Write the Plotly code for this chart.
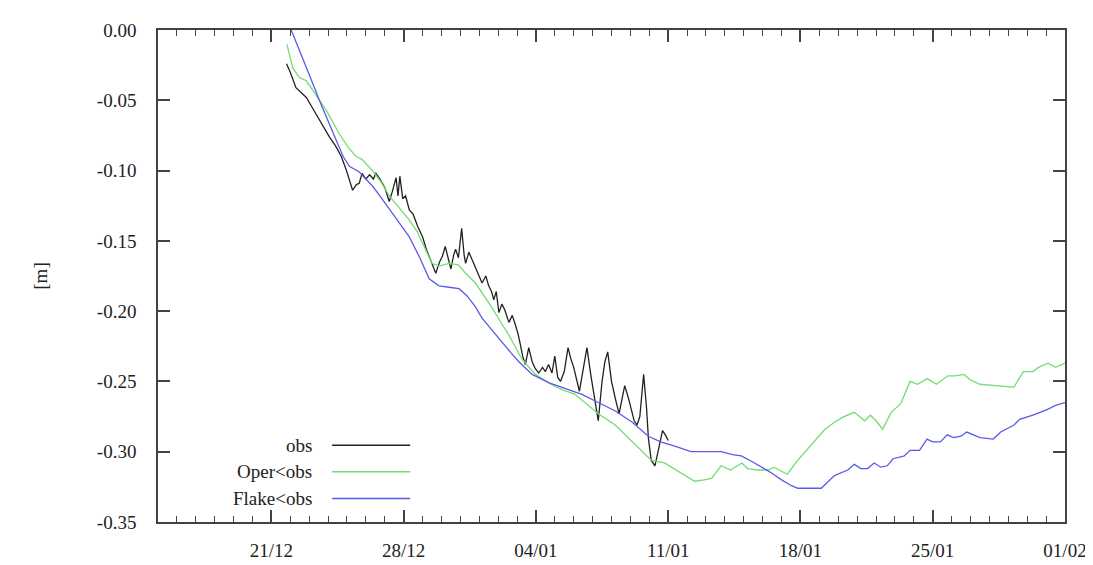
import pandas as pd
import plotly.graph_objects as go

BASE = "2010-12-15"

# days since 15/12 and water level [m]
obs_day = [6.8, 7.0, 7.3, 7.6, 7.85, 8.2, 8.55, 8.8, 9.07, 9.42, 9.7, 9.95, 10.15, 10.3, 10.5, 10.65,
           10.8, 11.0, 11.2, 11.4, 11.53, 11.75, 12.0, 12.24, 12.4, 12.6, 12.7, 12.8, 12.95, 13.1, 13.3,
           13.5, 13.75, 14.0, 14.2, 14.35, 14.55, 14.7, 14.9, 15.05, 15.2, 15.35, 15.5, 15.65, 15.75,
           15.9, 16.07, 16.2, 16.28, 16.45, 16.55, 16.7, 16.9, 17.15, 17.35, 17.5, 17.65, 17.77, 17.9,
           18.04, 18.2, 18.35, 18.57, 18.75, 18.92, 19.05, 19.18, 19.3, 19.44, 19.62, 19.8, 19.97, 20.15,
           20.35, 20.5, 20.67, 20.85, 21.0, 21.15, 21.3, 21.5, 21.7, 21.85, 22.0, 22.3, 22.5, 22.7, 22.9,
           23.1, 23.3, 23.5, 23.65, 23.8, 24.0, 24.2, 24.4, 24.55, 24.7, 24.9, 25.05, 25.2, 25.35, 25.5,
           25.7, 25.85, 25.95, 26.1, 26.3, 26.45, 26.7, 26.85, 27.0]
obs_val = [-0.024, -0.030, -0.041, -0.045, -0.048, -0.056, -0.064, -0.070, -0.076, -0.083, -0.090, -0.099,
           -0.108, -0.114, -0.110, -0.109, -0.102, -0.106, -0.103, -0.106, -0.102, -0.106, -0.112, -0.122,
           -0.115, -0.105, -0.118, -0.104, -0.120, -0.118, -0.128, -0.131, -0.140, -0.147, -0.156, -0.161,
           -0.168, -0.173, -0.165, -0.161, -0.154, -0.163, -0.170, -0.160, -0.156, -0.162, -0.141, -0.160,
           -0.166, -0.158, -0.161, -0.166, -0.172, -0.180, -0.175, -0.182, -0.186, -0.192, -0.186, -0.201,
           -0.195, -0.199, -0.208, -0.203, -0.210, -0.216, -0.224, -0.232, -0.238, -0.226, -0.236, -0.241,
           -0.244, -0.240, -0.243, -0.238, -0.244, -0.232, -0.247, -0.250, -0.243, -0.226, -0.234, -0.240,
           -0.257, -0.240, -0.226, -0.245, -0.262, -0.278, -0.250, -0.236, -0.229, -0.250, -0.262, -0.273,
           -0.263, -0.253, -0.262, -0.270, -0.278, -0.281, -0.275, -0.245, -0.268, -0.290, -0.306, -0.310,
           -0.300, -0.285, -0.288, -0.292]

oper_day = [6.82, 7.13, 7.49, 7.84, 8.3, 8.9, 9.6, 10.1, 10.48, 10.8, 11.35, 11.8, 12.24, 12.8, 13.29, 13.7,
            14.0, 14.5, 14.87, 15.4, 15.9, 16.28, 16.8, 17.3, 17.7, 18.1, 18.57, 19.25, 19.97, 20.8, 21.4,
            22.05, 22.7, 23.3, 24.2, 24.9, 25.6, 26.1, 26.8, 27.4, 28.06, 28.4, 28.9, 29.3, 29.8, 30.3, 30.9,
            31.2, 31.7, 32.3, 32.6, 33.3, 33.86, 34.4, 34.9, 35.3, 35.8, 36.3, 36.85, 37.4, 37.7, 38.0, 38.35,
            38.8, 39.3, 39.8, 40.2, 40.7, 41.2, 41.8, 42.2, 42.65, 43.0, 43.5, 44.3, 45.3, 45.8, 46.3, 46.6,
            47.1, 47.5, 48.0]
oper_val = [-0.010, -0.027, -0.034, -0.036, -0.045, -0.057, -0.074, -0.084, -0.090, -0.092, -0.100, -0.108,
            -0.118, -0.127, -0.135, -0.143, -0.152, -0.166, -0.168, -0.166, -0.167, -0.173, -0.180, -0.190,
            -0.198, -0.207, -0.217, -0.234, -0.245, -0.252, -0.256, -0.259, -0.266, -0.273, -0.281, -0.290,
            -0.299, -0.306, -0.308, -0.313, -0.318, -0.321, -0.320, -0.319, -0.310, -0.313, -0.308, -0.312,
            -0.313, -0.313, -0.311, -0.316, -0.306, -0.298, -0.290, -0.284, -0.279, -0.275, -0.272, -0.278,
            -0.274, -0.278, -0.284, -0.272, -0.266, -0.250, -0.252, -0.248, -0.252, -0.246, -0.246, -0.245,
            -0.249, -0.252, -0.253, -0.254, -0.243, -0.243, -0.240, -0.237, -0.240, -0.237]

flake_day = [7.05, 7.67, 8.1, 8.54, 9.0, 9.42, 9.8, 10.13, 10.65, 11.0, 11.35, 11.8, 12.24, 12.76, 13.29,
             13.82, 14.35, 14.87, 15.4, 15.93, 16.35, 16.8, 17.15, 17.7, 18.2, 18.7, 19.1, 19.8, 20.7, 21.55,
             22.4, 23.3, 24.2, 25.1, 25.95, 26.6, 27.35, 28.2, 29.1, 29.8, 30.4, 30.87, 31.57, 32.45, 33.0,
             33.5, 33.86, 34.5, 35.1, 35.8, 36.2, 36.5, 36.85, 37.2, 37.55, 37.9, 38.25, 38.6, 38.9, 39.2,
             39.5, 39.8, 40.3, 40.7, 41.0, 41.4, 41.77, 42.1, 42.5, 42.8, 43.5, 44.2, 44.6, 45.3, 45.6, 46.3,
             47.05, 47.5, 48.0]
flake_val = [0.000, -0.020, -0.035, -0.050, -0.064, -0.078, -0.090, -0.097, -0.101, -0.106, -0.111, -0.119,
             -0.127, -0.137, -0.147, -0.161, -0.177, -0.182, -0.183, -0.184, -0.189, -0.197, -0.205, -0.214,
             -0.222, -0.230, -0.236, -0.245, -0.251, -0.255, -0.259, -0.265, -0.271, -0.279, -0.289, -0.293,
             -0.296, -0.300, -0.300, -0.300, -0.302, -0.303, -0.308, -0.315, -0.320, -0.324, -0.326, -0.326,
             -0.326, -0.317, -0.315, -0.313, -0.309, -0.312, -0.312, -0.308, -0.311, -0.310, -0.305, -0.304,
             -0.303, -0.299, -0.299, -0.291, -0.293, -0.293, -0.288, -0.290, -0.289, -0.286, -0.290, -0.291,
             -0.286, -0.281, -0.277, -0.274, -0.270, -0.267, -0.265]

series_names = ["obs", "Oper<obs", "Flake<obs"]
series_colors = ["#222222", "#72dd72", "#5a5aea"]

y_tickvals = [0.0, -0.05, -0.10, -0.15, -0.20, -0.25, -0.30, -0.35]
y_ticktext = ["0.00", "-0.05", "-0.10", "-0.15", "-0.20", "-0.25", "-0.30", "-0.35"]


def to_dates(days):
    return pd.Timestamp(BASE) + pd.to_timedelta(days, unit="D")


FONT = "Liberation Serif, Times New Roman, DejaVu Serif, serif"
FS = 19
fig = go.Figure()
for (d, v), name, col in zip([(obs_day, obs_val), (oper_day, oper_val), (flake_day, flake_val)],
                             series_names, series_colors):
    fig.add_trace(go.Scatter(x=to_dates(d), y=v, mode="lines", name=name,
                             line=dict(color=col, width=1.3), showlegend=False))

# gnuplot-style key: right-aligned text followed by a line sample
key_y = [0.156, 0.102, 0.048]
for name, col, ky in zip(series_names, series_colors, key_y):
    fig.add_annotation(x=0.172, y=ky, xref="paper", yref="paper", text=name, showarrow=False,
                       xanchor="right", yanchor="middle", font=dict(family=FONT, size=FS, color="#222"))
    fig.add_shape(type="line", xref="paper", yref="paper", x0=0.192, x1=0.278, y0=ky, y1=ky,
                  line=dict(color=col, width=1.5))

axis_common = dict(showline=True, linecolor="#444", linewidth=1.5, mirror="allticks", ticks="inside",
                   tickcolor="#444", tickwidth=1.5, showgrid=False, zeroline=False,
                   tickfont=dict(family=FONT, size=FS, color="#222"))

fig.update_xaxes(range=[to_dates(0), to_dates(48)], tick0="2010-12-21", dtick=7 * 86400000,
                 tickformat="%d/%m", ticklen=12, ticklabelstandoff=10,
                 minor=dict(dtick=86400000, tick0="2010-12-21", ticks="inside", ticklen=6,
                            tickcolor="#444", tickwidth=1.2),
                 **axis_common)
fig.update_yaxes(range=[-0.35, 0.0], tickvals=y_tickvals, ticktext=y_ticktext, ticklen=12,
                 ticklabelstandoff=16,
                 title=dict(text="[m]", font=dict(family=FONT, size=FS, color="#222"), standoff=44),
                 **axis_common)

fig.update_layout(width=1093, height=565, plot_bgcolor="white", paper_bgcolor="white",
                  margin=dict(l=150, r=36, t=20, b=45), font=dict(family=FONT))
fig.write_html("out.html")
